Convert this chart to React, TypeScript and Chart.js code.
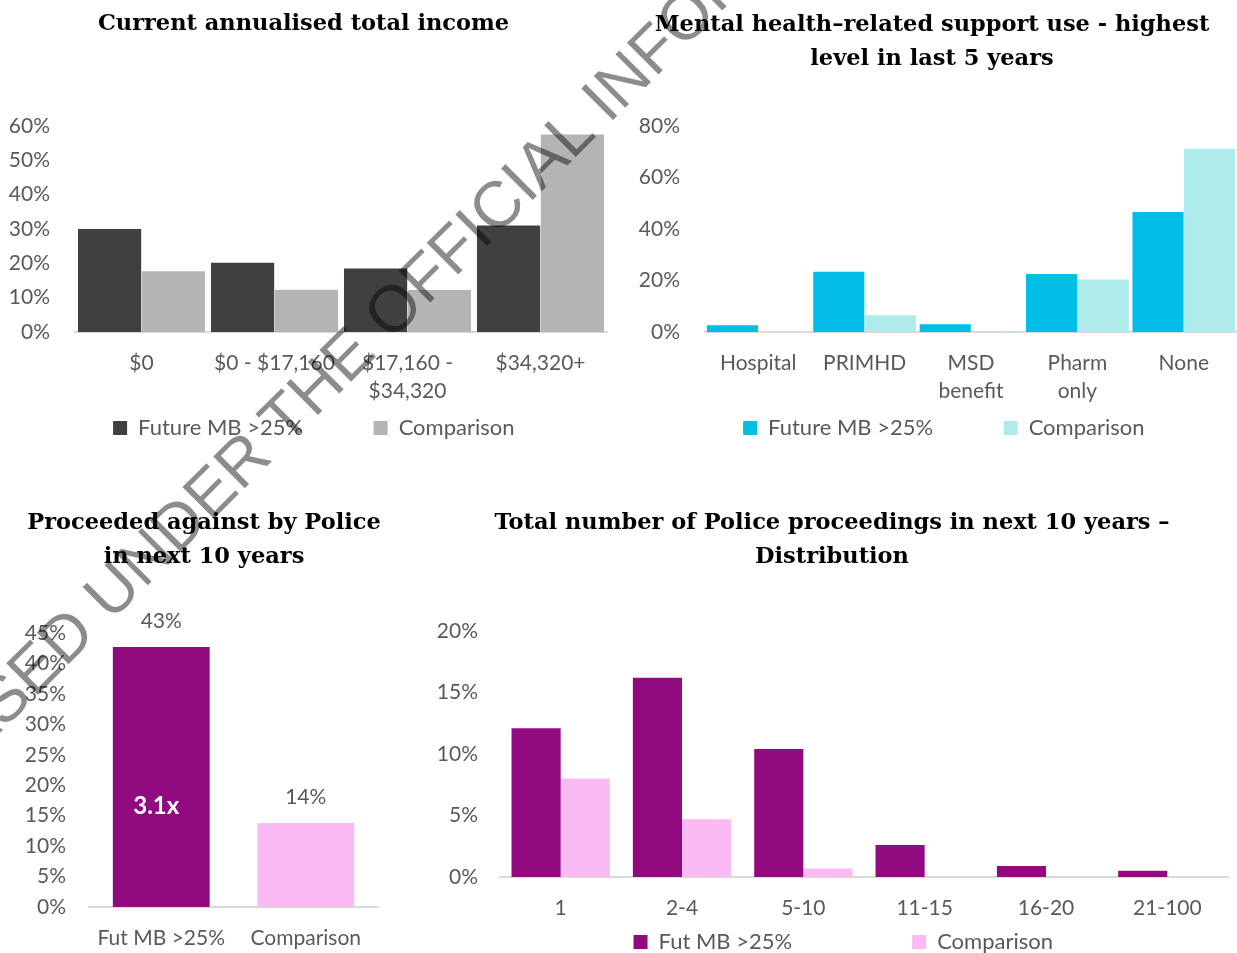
import React, { useEffect, useRef } from "react";
import { Chart, registerables } from "chart.js";

Chart.register(...registerables);

// ---------- DATA ----------
const incomeTitle = "Current annualised total income";
const incomeLabels: (string | string[])[] = ["$0", "$0 - $17,160", ["$17,160 -", "$34,320"], "$34,320+"];
const incomeFuture = [0.3, 0.202, 0.185, 0.31];
const incomeComparison = [0.177, 0.123, 0.122, 0.575];

const supportTitle = ["Mental health\u2013related support use - highest", "level in last 5 years"];
const supportLabels: (string | string[])[] = ["Hospital", "PRIMHD", ["MSD", "benefit"], ["Pharm", "only"], "None"];
const supportFuture = [0.026, 0.234, 0.03, 0.225, 0.466];
const supportComparison = [0.004, 0.065, 0.002, 0.204, 0.712];

const seriesNamesTop = ["Future MB >25%", "Comparison"];

const proceededTitle = ["Proceeded against by Police", "in next 10 years"];
const proceededLabels = ["Fut MB >25%", "Comparison"];
const proceededValues = [0.427, 0.138];
const ratioLabel = "3.1x";
const ratioLabelLevel = 0.165;

const distTitle = ["Total number of Police proceedings in next 10 years \u2013", "Distribution"];
const distLabels = ["1", "2-4", "5-10", "11-15", "16-20", "21-100"];
const distFuture = [0.121, 0.162, 0.104, 0.026, 0.009, 0.005];
const distComparison = [0.08, 0.047, 0.007, 0, 0, 0];
const seriesNamesBottom = ["Fut MB >25%", "Comparison"];

const watermarkText = "RELEASED UNDER THE OFFICIAL INFORMATION ACT";

// ---------- STYLE ----------
const TEXT_GREY = "#595959";
const AXIS_GREY = "#D9D9D9";
const TICK_FONT = { family: "Lato", size: 21, lineHeight: 1.35 };
const TITLE_FONT = { family: "DejaVu Serif", weight: "bold" as const, size: 22.5, lineHeight: 34 / 22.5 };

const EM = "\u2003";
const EN = "\u2002";
const spaces = (n: number) => EM.repeat(n);

const pct = (v: number | string) => Math.round(Number(v) * 100) + "%";

interface AxisOpts {
  max: number;
  step: number;
  yWidth: number;
  yPad: number;
  xHeight: number;
  xPad: number;
}

function scalesFor(o: AxisOpts) {
  return {
    x: {
      grid: { display: false, drawTicks: false },
      border: { display: true, color: AXIS_GREY, width: 2 },
      ticks: {
        color: TEXT_GREY,
        font: TICK_FONT,
        padding: o.xPad,
        maxRotation: 0,
        minRotation: 0,
        autoSkip: false,
      },
      afterFit: (s: any) => {
        s.height = o.xHeight;
      },
    },
    y: {
      min: 0,
      max: o.max,
      grid: { display: false, drawTicks: false },
      border: { display: false },
      ticks: {
        stepSize: o.step,
        autoSkip: false,
        color: TEXT_GREY,
        font: { family: "Lato", size: 21, lineHeight: 1 },
        padding: o.yPad,
        callback: (v: any) => pct(v),
      },
      afterFit: (s: any) => {
        s.width = o.yWidth;
      },
    },
  };
}

// legend row aligned to the right edge; invisible spacing after the labels sets the gaps
function legendFor(gapAfterFirst: string, gapAfterLast: string) {
  return {
    display: true,
    position: "bottom" as const,
    align: "end" as const,
    labels: {
      boxWidth: 14,
      boxHeight: 14,
      padding: 10,
      color: TEXT_GREY,
      font: { family: "Lato", size: 22 },
      generateLabels: (chart: any) => {
        const items = Chart.defaults.plugins.legend.labels.generateLabels(chart);
        if (items.length > 1) {
          items[0].text = items[0].text + gapAfterFirst;
          items[items.length - 1].text = items[items.length - 1].text + gapAfterLast;
        }
        return items;
      },
    },
  };
}

function titleFor(text: string | string[], top: number, bottom: number) {
  return {
    display: true,
    text,
    color: "#000000",
    font: TITLE_FONT,
    padding: { top, bottom },
  };
}

const incomeConfig: any = {
  type: "bar",
  data: {
    labels: incomeLabels,
    datasets: [
      { label: seriesNamesTop[0], data: incomeFuture, backgroundColor: "#404040", borderWidth: 0 },
      { label: seriesNamesTop[1], data: incomeComparison, backgroundColor: "#B4B4B4", borderWidth: 0 },
    ],
  },
  options: {
    responsive: false,
    animation: false,
    devicePixelRatio: 1,
    layout: { padding: { left: 0, right: 5, top: 0, bottom: 0 } },
    datasets: { bar: { categoryPercentage: 0.96, barPercentage: 0.99 } },
    scales: scalesFor({ max: 0.6, step: 0.1, yWidth: 75, yPad: 25, xHeight: 75, xPad: 16.8 }),
    plugins: {
      title: titleFor(incomeTitle, 7, 85),
      legend: legendFor(spaces(3) + EN, spaces(5)),
      tooltip: { enabled: false },
    },
  },
};

const supportConfig: any = {
  type: "bar",
  data: {
    labels: supportLabels,
    datasets: [
      { label: seriesNamesTop[0], data: supportFuture, backgroundColor: "#00BEE6", borderWidth: 0 },
      { label: seriesNamesTop[1], data: supportComparison, backgroundColor: "#AEEBEB", borderWidth: 0 },
    ],
  },
  options: {
    responsive: false,
    animation: false,
    devicePixelRatio: 1,
    layout: { padding: { left: 15, right: 0, top: 0, bottom: 0 } },
    datasets: { bar: { categoryPercentage: 0.97, barPercentage: 0.99 } },
    scales: scalesFor({ max: 0.8, step: 0.2, yWidth: 78, yPad: 25, xHeight: 75, xPad: 16.8 }),
    plugins: {
      title: titleFor(supportTitle, 8, 50),
      legend: legendFor(spaces(3) + EN, spaces(5)),
      tooltip: { enabled: false },
    },
  },
};

const proceededLabelPlugin = {
  id: "proceededLabels",
  afterDatasetsDraw(chart: any) {
    const { ctx } = chart;
    const meta = chart.getDatasetMeta(0);
    const values = chart.data.datasets[0].data as number[];
    ctx.save();
    ctx.textAlign = "center";
    ctx.textBaseline = "middle";
    ctx.fillStyle = TEXT_GREY;
    ctx.font = "21px Lato";
    meta.data.forEach((bar: any, i: number) => {
      ctx.fillText(pct(values[i]), bar.x, bar.y - 26);
    });
    ctx.fillStyle = "#FFFFFF";
    ctx.font = "bold 24px Lato";
    const y = chart.scales.y.getPixelForValue(ratioLabelLevel);
    ctx.fillText(ratioLabel, meta.data[0].x - 5, y);
    ctx.restore();
  },
};

const proceededScales: any = {
  ...scalesFor({ max: 0.45, step: 0.05, yWidth: 79, yPad: 23, xHeight: 46, xPad: 16.8 }),
  // empty right-hand spacer axis (keeps the title centred like the original)
  spacer: {
    type: "linear",
    position: "right",
    display: true,
    grid: { display: false, drawTicks: false },
    border: { display: false },
    ticks: { display: false },
    afterFit: (s: any) => {
      s.width = 20;
    },
  },
};

const proceededConfig: any = {
  type: "bar",
  data: {
    labels: proceededLabels,
    datasets: [
      {
        label: "Proceeded",
        data: proceededValues,
        yAxisID: "y",
        backgroundColor: ["#920A80", "#FABAF2"],
        borderWidth: 0,
      },
    ],
  },
  options: {
    responsive: false,
    animation: false,
    devicePixelRatio: 1,
    layout: { padding: { left: 10, right: 0, top: 0, bottom: 0 } },
    datasets: { bar: { categoryPercentage: 0.67, barPercentage: 1 } },
    scales: proceededScales,
    plugins: {
      title: titleFor(proceededTitle, 36, 59),
      legend: { display: false },
      tooltip: { enabled: false },
    },
  },
  plugins: [proceededLabelPlugin],
};

const distConfig: any = {
  type: "bar",
  data: {
    labels: distLabels,
    datasets: [
      { label: seriesNamesBottom[0], data: distFuture, backgroundColor: "#920A80", borderWidth: 0 },
      { label: seriesNamesBottom[1], data: distComparison, backgroundColor: "#FABAF2", borderWidth: 0 },
    ],
  },
  options: {
    responsive: false,
    animation: false,
    devicePixelRatio: 1,
    layout: { padding: { left: 16, right: 9, top: 0, bottom: 0 } },
    datasets: { bar: { categoryPercentage: 0.81, barPercentage: 1 } },
    scales: scalesFor({ max: 0.2, step: 0.05, yWidth: 64, yPad: 22, xHeight: 44, xPad: 16.8 }),
    plugins: {
      title: titleFor(distTitle, 36, 57),
      legend: legendFor(spaces(6) + EN, spaces(10)),
      tooltip: { enabled: false },
    },
  },
};

function ChartCanvas({ config, left, top, width, height }: { config: any; left: number; top: number; width: number; height: number }) {
  const ref = useRef<HTMLCanvasElement>(null);
  useEffect(() => {
    if (!ref.current) return;
    const chart = new Chart(ref.current, config);
    return () => chart.destroy();
  }, [config]);
  return (
    <canvas
      ref={ref}
      width={width}
      height={height}
      style={{ position: "absolute", left, top, width, height, display: "block" }}
    />
  );
}

export default function App() {
  const wmX = 425;
  const wmY = 276;
  return (
    <div
      style={{
        position: "absolute",
        left: 0,
        top: 0,
        width: 1237,
        height: 953,
        overflow: "hidden",
        background: "#FFFFFF",
      }}
    >
      <ChartCanvas config={incomeConfig} left={0} top={0} width={612} height={449} />
      <ChartCanvas config={supportConfig} left={612} top={0} width={625} height={449} />
      <ChartCanvas config={proceededConfig} left={0} top={470} width={398} height={483} />
      <ChartCanvas config={distConfig} left={420} top={470} width={817} height={493} />
      <svg
        width={1237}
        height={953}
        style={{ position: "absolute", left: 0, top: 0, pointerEvents: "none" }}
      >
        <text
          x={wmX}
          y={wmY}
          transform={`rotate(-45 ${wmX} ${wmY})`}
          textAnchor="middle"
          dominantBaseline="central"
          fontFamily="Liberation Sans"
          fontSize={65}
          fill="#000000"
          fillOpacity={0.45}
        >
          {watermarkText}
        </text>
      </svg>
    </div>
  );
}
